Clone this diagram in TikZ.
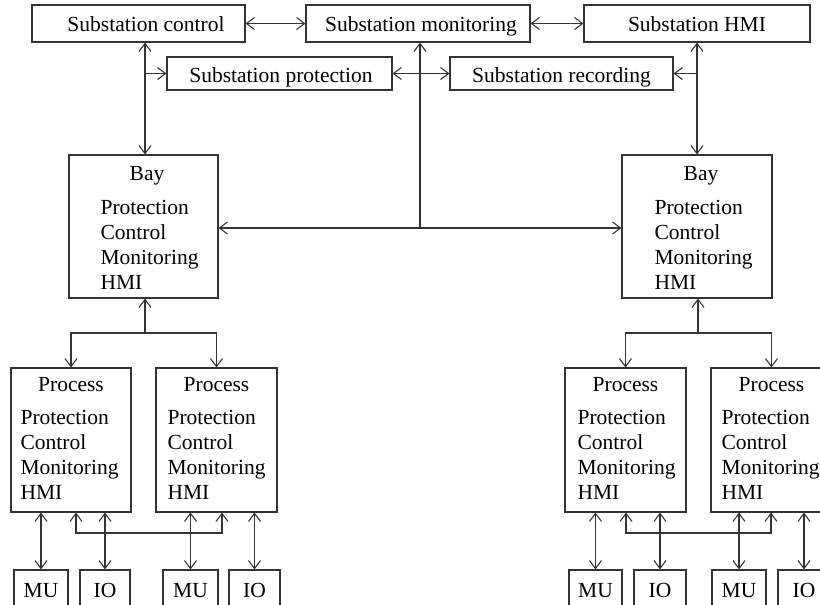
\documentclass[tikz,border=0pt]{standalone}
\usepackage{fontspec}
\setmainfont{Liberation Serif}
\usetikzlibrary{arrows.meta}
\begin{document}
\begin{tikzpicture}[x=1pt,y=-1pt,
  line width=1.1pt,
  >={Straight Barb[length=8pt,width=12pt]},
  box/.style={draw=black!80,line width=1.1pt,inner sep=0pt,minimum width=#1},
  lbl/.style={anchor=base,inner sep=0pt,font=\fontsize{21.5}{25}\selectfont},
  lft/.style={anchor=base west,inner sep=0pt,font=\fontsize{21.5}{25}\selectfont},
  conn/.style={draw=black!80}]
\useasboundingbox (0,0) rectangle (820,605);
\clip (0,0) rectangle (820,605);

% substation level
\node[box=213,minimum height=37] (sc)   at (138.5,23.5) {};
\node[box=224,minimum height=37] (sm)   at (418,23.5) {};
\node[box=226,minimum height=37] (shmi) at (697,23.5) {};
\node[box=225,minimum height=33] (sp)   at (279.5,73.5) {};
\node[box=223,minimum height=33] (sr)   at (561.5,73.5) {};
\node[lbl] (tsc)   at (146,31) {Substation control};
\node[lbl] (tsm)   at (421,31) {Substation monitoring};
\node[lbl] (tshmi) at (697,31) {Substation HMI};
\node[lbl] (tsp)   at (281,82) {Substation protection};
\node[lbl] (tsr)   at (561.5,82) {Substation recording};

% function lists inside bay and process boxes
\newcommand{\funclist}[3]{%
  \foreach \k/\w in {0/Protection,1/Control,2/Monitoring,3/HMI}{
    \node[lft] (#1-\k) at (#2,#3+25*\k) {\w};
  }}

% bay level
\node[box=149,minimum height=143] (bayL) at (143.5,226.5) {};
\node[box=150,minimum height=143] (bayR) at (697,226.5) {};
\node[lbl] (tbayL) at (147,180) {Bay};
\node[lbl] (tbayR) at (701,180) {Bay};
\funclist{lbayL}{100}{214}
\funclist{lbayR}{654}{214}

% process level
\node[box=120,minimum height=144] (p1) at (71,440) {};
\node[box=121,minimum height=144] (p2) at (216.5,440) {};
\node[box=121,minimum height=144] (p3) at (625.5,440) {};
\node[box=121,minimum height=144] (p4) at (771.5,440) {};
\foreach \n/\cx/\lx in {p1/71/20, p2/216.5/167, p3/625.5/577, p4/771.5/721}{
  \node[lbl] (t\n) at (\cx,391) {Process};
  \funclist{l\n}{\lx}{424}
}

% merging units and IO
\node[box=54,minimum height=40] (mu1) at (41,590) {};
\node[box=50,minimum height=40] (io1) at (105,590) {};
\node[box=55,minimum height=40] (mu2) at (190.5,590) {};
\node[box=51,minimum height=40] (io2) at (254.5,590) {};
\node[box=53,minimum height=40] (mu3) at (595.5,590) {};
\node[box=52,minimum height=40] (io3) at (660,590) {};
\node[box=54,minimum height=40] (mu4) at (739,590) {};
\node[box=52,minimum height=40] (io4) at (804,590) {};
\foreach \n in {mu1,mu2,mu3,mu4}{\node[lbl] at ([yshift=-7pt]\n.center) {MU};}
\foreach \n in {io1,io2,io3,io4}{\node[lbl] at ([yshift=-7pt]\n.center) {IO};}

% substation connections
\draw[conn,<->] (sc.east) -- (sm.west);
\draw[conn,<->] (sm.east) -- (shmi.west);
\draw[conn,<->] (sp.east) -- (sr.west);
\coordinate (cL) at (145,0);
\coordinate (cR) at (697,0);
\draw[conn,<->] (sc.south -| cL) -- (bayL.north -| cL);
\draw[conn,->] (sp.west -| cL) -- (sp.west);
\draw[conn,<->] (shmi.south -| cR) -- (bayR.north -| cR);
\draw[conn,->] (sr.east -| cR) -- (sr.east);
\coordinate (mid) at (420,228);
\draw[conn,->] (mid) -- (sm.south -| mid);
\draw[conn,<->] (bayL.east |- mid) -- (bayR.west |- mid);

% bay to process
\coordinate (jL) at (145,333);
\coordinate (jR) at (698,333);
\draw[conn,->] (jL) -- (bayL.south -| jL);
\draw[conn,->] (jL) -| (p1.north);
\draw[conn,->] (jL) -| (p2.north);
\draw[conn,->] (jR) -- (bayR.south -| jR);
\draw[conn,->] (jR) -| (p3.north);
\draw[conn,->] (jR) -| (p4.north);

% process to MU / IO
\foreach \p/\m/\i in {p1/mu1/io1, p2/mu2/io2, p3/mu3/io3, p4/mu4/io4}{
  \draw[conn,<->] (\m.north) -- (\m.north |- \p.south);
  \draw[conn,<->] (\i.north) -- (\i.north |- \p.south);
}
% cross links between neighbouring process units
\coordinate (x1) at (76,533);
\coordinate (x2) at (222,533);
\coordinate (x3) at (626,533);
\coordinate (x4) at (771,533);
\draw[conn,<->] (p1.south -| x1) -- (x1) -- (x2) -- (p2.south -| x2);
\draw[conn,<->] (p3.south -| x3) -- (x3) -- (x4) -- (p4.south -| x4);
\end{tikzpicture}
\end{document}
